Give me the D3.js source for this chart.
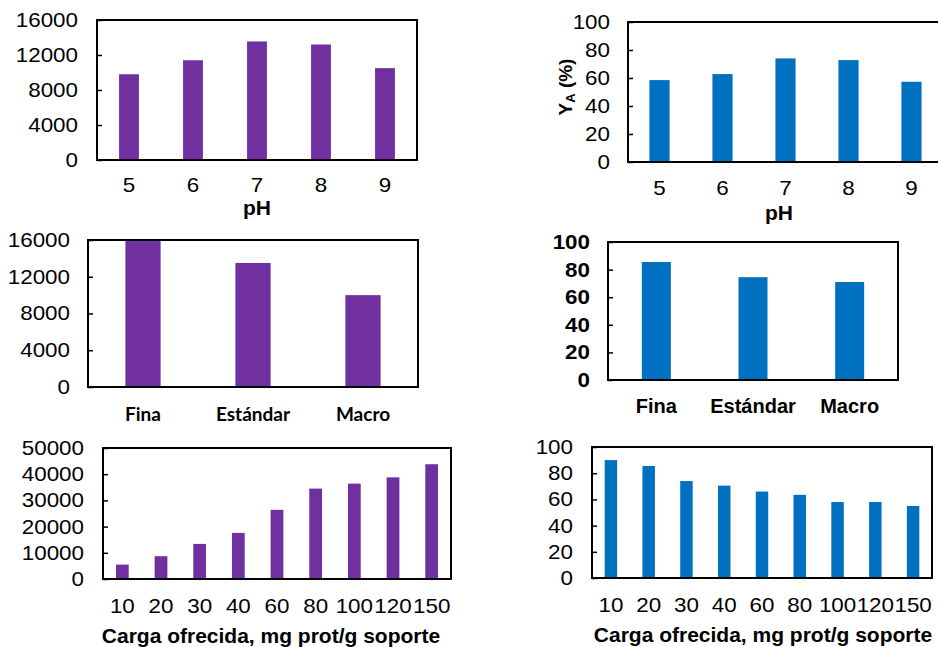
<!DOCTYPE html>
<html>
<head>
<meta charset="utf-8">
<script src="https://cdn.jsdelivr.net/npm/d3@7"></script>
<style>
  body { margin: 0; background: #fff; }
  svg { display: block; }
</style>
</head>
<body>
<script>
var width = 938
var height = 647

// categorias y valores
var phCats = ['5', '6', '7', '8', '9']
var phActivity = [9800, 11400, 13550, 13200, 10500]
var phYield = [58.5, 62.8, 74, 72.8, 57.3]

var sizeCats = ['Fina', 'Estándar', 'Macro']
var sizeActivity = [16000, 13500, 10000]
var sizeYield = [85.5, 74.5, 71]

var loadCats = ['10', '20', '30', '40', '60', '80', '100', '120', '150']
var loadActivity = [5500, 8700, 13400, 17600, 26400, 34500, 36400, 38800, 43800]
var loadYield = [90, 85.5, 74, 70.5, 66, 63.5, 58, 58, 55]

// ticks
var actTicks16 = [0, 4000, 8000, 12000, 16000]
var actTicks50 = [0, 10000, 20000, 30000, 40000, 50000]
var yieldTicks = [0, 20, 40, 60, 80, 100]

var purple = '#7030A0'
var blue = '#0070C0'
var arial = '"Liberation Sans", Arial, sans-serif'
var stretch = 1.12   // la figura original esta algo estirada en horizontal

var svg = d3.select('body').append('svg')
    .attr('width', width)
    .attr('height', height)

var clip = svg.append('defs').append('clipPath').attr('id', 'cutLabel')
clip.append('rect').attr('x', 517).attr('y', 0).attr('width', 60).attr('height', height)

// estira el texto en x sin mover su punto de anclaje
function widen(texts, s) {
    texts.each(function () {
        var t = d3.select(this)
        var x = +t.attr('x') || 0
        t.attr('x', x / s).attr('transform', 'scale(' + s + ',1)')
    })
}

function drawPanel(p) {
    var x = d3.scaleBand().domain(p.cats).range([p.x0, p.x1])
        .paddingInner(p.pad).paddingOuter(p.pad / 2)
    var y = d3.scaleLinear().domain([0, p.ticks[p.ticks.length - 1]]).range([p.y1, p.y0])
    var top = y.domain()[1]
    var g = svg.append('g')

    g.selectAll('rect.bar')
        .data(p.values)
        .join('rect')
        .attr('class', 'bar')
        .attr('x', function (d, i) { return x(p.cats[i]) })
        .attr('y', function (d) { return y(Math.min(d, top)) })
        .attr('width', x.bandwidth())
        .attr('height', function (d) { return y(0) - y(Math.min(d, top)) })
        .attr('fill', p.color)

    var ya = g.append('g')
        .attr('transform', 'translate(' + p.x0 + ',0)')
        .call(d3.axisLeft(y).tickValues(p.ticks).tickSizeInner(-5).tickSizeOuter(0)
            .tickPadding(p.yPad).tickFormat(d3.format('d')))
    ya.select('.domain').remove()
    ya.selectAll('line').attr('stroke', '#000').attr('stroke-width', 1.5)
    ya.selectAll('text')
        .style('font-family', arial)
        .style('font-size', '20px')
        .style('font-weight', p.boldTicks ? 'bold' : 'normal')
        .attr('fill', '#000')
    widen(ya.selectAll('text'), stretch)

    var xa = g.append('g')
        .attr('transform', 'translate(0,' + p.y1 + ')')
        .call(d3.axisBottom(x).tickSize(0).tickPadding(p.xPad))
    xa.select('.domain').remove()
    xa.selectAll('text')
        .style('font-family', p.catFont || arial)
        .style('font-size', (p.catSize || 20) + 'px')
        .style('font-weight', p.boldCats ? 'bold' : 'normal')
        .attr('fill', '#000')
    if (!p.boldCats) widen(xa.selectAll('text'), stretch)

    g.append('rect')
        .attr('x', p.x0).attr('y', p.y0)
        .attr('width', p.x1 - p.x0).attr('height', p.y1 - p.y0)
        .attr('fill', 'none').attr('stroke', '#000').attr('stroke-width', 2)

    if (p.title) {
        g.append('text')
            .attr('x', p.titleX).attr('y', p.titleY)
            .attr('text-anchor', 'middle')
            .style('font-family', arial).style('font-size', '21px').style('font-weight', 'bold')
            .text(p.title)
    }

    if (p.yLabel) {
        var t = g.append('text')
            .attr('transform', 'translate(' + p.yLabel[0] + ',' + p.yLabel[1] + ') rotate(-90)')
            .attr('text-anchor', 'middle')
            .style('font-family', arial).style('font-size', '19px').style('font-weight', 'bold')
        if (p.cutLabel) t.attr('clip-path', 'url(#cutLabel)')
        t.append('tspan').text('Y')
        t.append('tspan').attr('dy', 3).style('font-size', '13px').text('A')
        t.append('tspan').attr('dy', -3).text(' (%)')
    }
}

drawPanel({ cats: phCats, values: phActivity, ticks: actTicks16, color: purple,
    x0: 97, x1: 417, y0: 20, y1: 160, pad: 0.69, yPad: 19, xPad: 18,
    title: 'pH', titleX: 257, titleY: 215 })

drawPanel({ cats: phCats, values: phYield, ticks: yieldTicks, color: blue,
    x0: 628, x1: 943, y0: 22, y1: 162, pad: 0.68, yPad: 18, xPad: 19,
    title: 'pH', titleX: 779, titleY: 220, yLabel: [572, 87] })

drawPanel({ cats: sizeCats, values: sizeActivity, ticks: actTicks16, color: purple,
    x0: 88, x1: 418, y0: 240, y1: 387, pad: 0.68, yPad: 18, xPad: 21,
    catFont: 'Lato, "Open Sans", sans-serif', catSize: 19, boldCats: true })

drawPanel({ cats: sizeCats, values: sizeYield, ticks: yieldTicks, color: blue,
    x0: 608, x1: 898, y0: 242, y1: 380, pad: 0.7, yPad: 18, xPad: 18.5,
    boldTicks: true, boldCats: true, yLabel: [525, 320], cutLabel: true })

drawPanel({ cats: loadCats, values: loadActivity, ticks: actTicks50, color: purple,
    x0: 103, x1: 451, y0: 448, y1: 579, pad: 0.67, yPad: 19, xPad: 20,
    title: 'Carga ofrecida, mg prot/g soporte', titleX: 271, titleY: 643 })

drawPanel({ cats: loadCats, values: loadYield, ticks: yieldTicks, color: blue,
    x0: 592, x1: 932, y0: 447, y1: 578, pad: 0.67, yPad: 19, xPad: 19.5,
    title: 'Carga ofrecida, mg prot/g soporte', titleX: 763, titleY: 642,
    yLabel: [525, 515], cutLabel: true })
</script>
</body>
</html>
